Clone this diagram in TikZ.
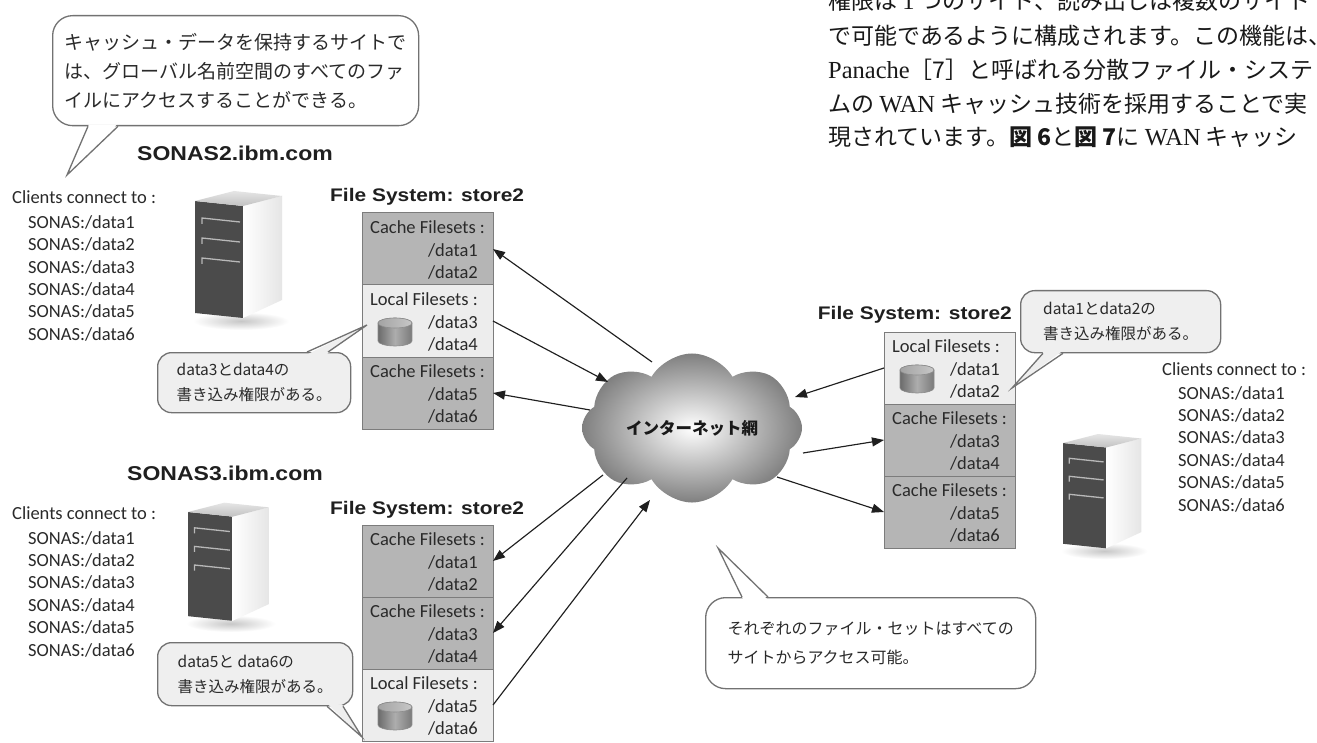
\documentclass[tikz,border=0pt]{standalone}
\usepackage{fontspec}
\setmainfont{Liberation Serif}
\newfontfamily\jpfont{Noto Sans CJK JP}
\newfontfamily\lblfont{Carlito}
\newfontfamily\headfont[FakeStretch=1.15]{Liberation Sans}
\usetikzlibrary{arrows.meta,shapes.symbols}

\definecolor{cachefill}{HTML}{B5B5B5}
\definecolor{localfill}{HTML}{EDEDED}
\definecolor{boxline}{HTML}{7C7C7C}
\definecolor{inktext}{HTML}{2A2A2A}
\definecolor{bubbleline}{HTML}{727272}
\definecolor{bubblefill}{HTML}{EFEFEF}
\definecolor{towerfront}{HTML}{4B4B4B}

% Latin words inside the Japanese running text
\newcommand\latin[1]{{\rmfamily\fontsize{24.5}{24}\selectfont #1}}

\tikzset{
  fsbox/.style={draw=boxline, line width=1pt, minimum width=131pt, minimum height=72pt,
                inner sep=0pt, outer sep=0pt, anchor=north west},
  cachebox/.style={fsbox, fill=cachefill},
  localbox/.style={fsbox, fill=localfill},
  fstext/.style={font=\lblfont\fontsize{18.5}{20}\selectfont, text=inktext, inner sep=0pt},
  fslabel/.style={font=\headfont\bfseries\fontsize{18.2}{20}\selectfont, text=black!88, inner sep=0pt},
  sitename/.style={font=\headfont\bfseries\fontsize{20}{22}\selectfont, text=black!88, inner sep=0pt},
  clienttext/.style={font=\lblfont\fontsize{18.5}{20}\selectfont, text=inktext, inner sep=0pt, anchor=base west},
  link/.style={draw=black!88, line width=1.15pt, -{Triangle[length=12pt,width=9pt]}},
  bubble/.style={draw=bubbleline, line width=1.3pt, rounded corners=20pt, fill=white,
                 anchor=north west, inner sep=0pt, align=left, text=inktext},
  smallbubble/.style={bubble, fill=bubblefill, rounded corners=14pt},
  bubbletail/.style={draw=bubbleline, line width=1.3pt, line join=miter},
  prose/.style={font=\jpfont\fontsize{23}{23}\selectfont, text=black!90, inner sep=0pt, anchor=base west},
  tower/.pic={
    \shade[inner color=black!22, outer color=white] (46,120) ellipse[x radius=48pt, y radius=9pt];
    \fill[towerfront] (0,0) -- (48,5) -- (48,117) -- (0,112) -- cycle;
    \shade[left color=white, right color=black!10] (48,5) -- (87,-5) -- (87,99) -- (48,117) -- cycle;
    \shade[top color=black!10, bottom color=black!24] (0,0) -- (39,-10) -- (87,-5) -- (48,5) -- cycle;
    \foreach \d in {0,20,40}
      \draw[black!28, line width=1.3pt] (7,23+\d) -- (7,17+\d) -- (45,21+\d);
  },
}

% one section of a file system column: name, x, y, style, title, two data sets
\newcommand\fileset[7]{%
  \node[#4] (#1) at (#2,#3) {};
  \node[fstext, anchor=west] (#1-t) at ([xshift=8pt,yshift=-14pt]#1.north west) {#5};
  \node[fstext, anchor=east] (#1-a) at ([xshift=-15pt,yshift=-37pt]#1.north east) {/#6};
  \node[fstext, anchor=east] (#1-b) at ([xshift=-15pt,yshift=-59pt]#1.north east) {/#7};
}
% disk drum inside a local file set section
\newcommand\drum[1]{%
  \begin{scope}[shift={(#1.north west)}]
    \shade[left color=black!58, right color=black!52, middle color=black!32, draw=black!45, line width=0.6pt]
      (16,38) -- (16,56) arc[start angle=180, end angle=360, x radius=17pt, y radius=5pt]
      -- (50,38) arc[start angle=0, end angle=180, x radius=17pt, y radius=5pt] -- cycle;
    \shade[left color=black!36, right color=black!22, draw=black!45, line width=0.6pt]
      (33,38) ellipse[x radius=17pt, y radius=5pt];
  \end{scope}}

\begin{document}
\begin{tikzpicture}[x=1pt, y=-1pt]
\path[use as bounding box] (0,0) rectangle (1317,743);
\clip (0,0) rectangle (1317,743);
\fill[white] (0,0) rectangle (1317,743);

% running text of the page
\node[prose] (p1) at (828,10) {権限は \latin{1} つのサイト、読み出しは複数のサイト};
\node[prose] (p2) at (828,45) {で可能であるように構成されます。この機能は、};
\node[prose] (p3) at (828,79) {\latin{Panache}［7］と呼ばれる分散ファイル・システ};
\node[prose] (p4) at (828,113) {ムの \latin{WAN} キャッシュ技術を採用することで実};
\node[prose] (p5) at (828,146) {現されています。{\bfseries 図 6}と{\bfseries 図 7}に \latin{WAN} キャッシ};

% site names
\node[sitename] (siteA) at (235,153) {SONAS2.ibm.com};
\node[sitename] (siteC) at (225,473) {SONAS3.ibm.com};

% servers
\pic (srvA) at (195,201) {tower};
\pic[scale=0.93] (srvC) at (188,512) {tower};
\pic[scale=0.9] (srvB) at (1063,443) {tower};

% client lists
\node[clienttext] (cliA) at (12,204) {Clients connect to :};
\foreach \k in {1,...,6}
  \node[clienttext] (cliA-\k) at (28,206+22.4*\k) {SONAS:/data\k};
\node[clienttext] (cliC) at (12,519) {Clients connect to :};
\foreach \k in {1,...,6}
  \node[clienttext] (cliC-\k) at (28,521.6+22.4*\k) {SONAS:/data\k};
\node[clienttext] (cliB) at (1162,375) {Clients connect to :};
\foreach \k in {1,...,6}
  \node[clienttext] (cliB-\k) at (1178,376.6+22.4*\k) {SONAS:/data\k};

% file system of SONAS2
\node[fslabel, anchor=west] (fsA-label) at (330,197) {File System: store2};
\fileset{fsA1}{362}{213}{cachebox}{Cache Filesets :}{data1}{data2}
\fileset{fsA2}{362}{285}{localbox}{Local Filesets :}{data3}{data4}
\drum{fsA2}
\fileset{fsA3}{362}{357}{cachebox}{Cache Filesets :}{data5}{data6}

% file system of the right site
\node[fslabel, anchor=east] (fsB-label) at (1012,315) {File System: store2};
\fileset{fsB1}{884}{332}{localbox}{Local Filesets :}{data1}{data2}
\drum{fsB1}
\fileset{fsB2}{884}{404}{cachebox}{Cache Filesets :}{data3}{data4}
\fileset{fsB3}{884}{476}{cachebox}{Cache Filesets :}{data5}{data6}

% file system of SONAS3
\node[fslabel, anchor=west] (fsC-label) at (330,510) {File System: store2};
\fileset{fsC1}{362}{525}{cachebox}{Cache Filesets :}{data1}{data2}
\fileset{fsC2}{362}{597}{cachebox}{Cache Filesets :}{data3}{data4}
\fileset{fsC3}{362}{669}{localbox}{Local Filesets :}{data5}{data6}
\drum{fsC3}

% the internet
\node[cloud, cloud puffs=8, cloud puff arc=120, aspect=1.6, minimum width=220pt, minimum height=142pt,
      inner sep=0pt, inner color=white, outer color=black!50,
      font=\jpfont\bfseries\fontsize{16.5}{18}\selectfont, text=black!90] (net) at (692,428) {インターネット網};
\coordinate (nA) at (652,362);
\coordinate (nB) at (608,382);
\coordinate (nC) at (590,410);
\coordinate (nD) at (795,397);
\coordinate (nE) at (803,453);
\coordinate (nF) at (777,477);
\coordinate (nG) at (603,475);
\coordinate (nH) at (627,478);
\coordinate (nI) at (650,500);

% replication links
\draw[link] (nA) -- (fsA1.east);
\draw[link] (fsA2.east) -- (nB);
\draw[link] (nC) -- (fsA3.east);
\draw[link] (fsB1.west) -- (nD);
\draw[link] (nE) -- (fsB2.west);
\draw[link] (nF) -- (fsB3.west);
\draw[link] (nG) -- (fsC1.east);
\draw[link] (nH) -- (fsC2.east);
\draw[link] (fsC3.east) -- (nI);

% speech bubbles
\node[bubble, font=\jpfont\fontsize{19}{29}\selectfont, minimum width=366pt, minimum height=110pt] (noteA) at (52,15)
  {キャッシュ・データを保持するサイトで\\は、グローバル名前空間のすべてのファ\\イルにアクセスすることができる。};
\coordinate (noteA-tip) at (67,175);
\fill[white] ([xshift=37pt,yshift=2pt]noteA.south west) -- (noteA-tip) -- ([xshift=65pt,yshift=2pt]noteA.south west) -- cycle;
\draw[bubbletail] ([xshift=36pt]noteA.south west) -- (noteA-tip) -- ([xshift=66pt]noteA.south west);

\node[smallbubble, font=\jpfont\fontsize{15.5}{25}\selectfont, minimum width=193pt, minimum height=60pt] (noteB) at (157,352)
  {data3とdata4の\\書き込み権限がある。};
\coordinate (noteB-tip) at (367,325);
\fill[bubblefill] ([xshift=151pt,yshift=-2pt]noteB.north west) -- (noteB-tip) -- ([xshift=170pt,yshift=-2pt]noteB.north west) -- cycle;
\draw[bubbletail] ([xshift=150pt]noteB.north west) -- (noteB-tip) -- ([xshift=171pt]noteB.north west);

\node[smallbubble, font=\jpfont\fontsize{15.5}{25}\selectfont, minimum width=200pt, minimum height=62pt] (noteC) at (1020,290)
  {data1とdata2の\\書き込み権限がある。};
\coordinate (noteC-tip) at (1012,388);
\fill[bubblefill] ([xshift=24pt,yshift=2pt]noteC.south west) -- (noteC-tip) -- ([xshift=42pt,yshift=2pt]noteC.south west) -- cycle;
\draw[bubbletail] ([xshift=23pt]noteC.south west) -- (noteC-tip) -- ([xshift=43pt]noteC.south west);

\node[smallbubble, font=\jpfont\fontsize{15.5}{25}\selectfont, minimum width=195pt, minimum height=63pt] (noteE) at (157,642)
  {data5と data6の\\書き込み権限がある。};
\coordinate (noteE-tip) at (362,737);
\fill[bubblefill] ([xshift=171pt,yshift=2pt]noteE.south west) -- (noteE-tip) -- ([xshift=185pt,yshift=2pt]noteE.south west) -- cycle;
\draw[bubbletail] ([xshift=170pt]noteE.south west) -- (noteE-tip) -- ([xshift=186pt]noteE.south west);

\node[bubble, font=\jpfont\fontsize{16}{29}\selectfont, minimum width=330pt, minimum height=91pt] (noteD) at (705,597)
  {それぞれのファイル・セットはすべての\\サイトからアクセス可能。};
\coordinate (noteD-tip) at (718,548);
\fill[white] ([xshift=38pt,yshift=-2pt]noteD.north west) -- (noteD-tip) -- ([xshift=62pt,yshift=-2pt]noteD.north west) -- cycle;
\draw[bubbletail] ([xshift=37pt]noteD.north west) -- (noteD-tip) -- ([xshift=63pt]noteD.north west);
\end{tikzpicture}
\end{document}
